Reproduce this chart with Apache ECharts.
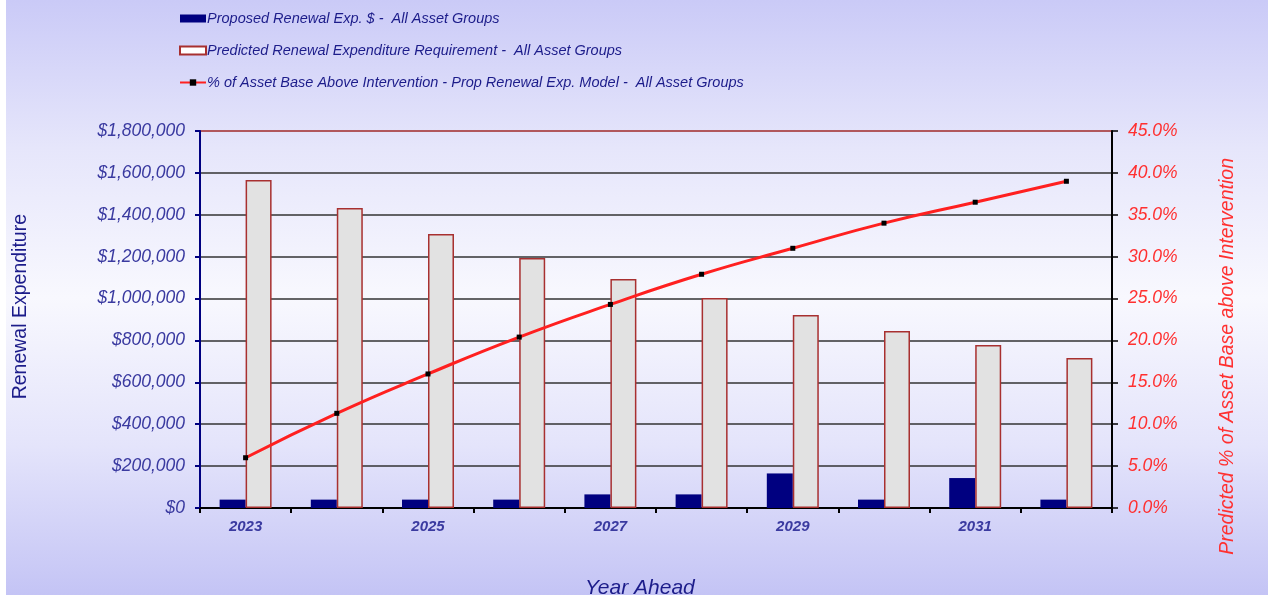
<!DOCTYPE html>
<html>
<head>
<meta charset="utf-8">
<script src="https://cdn.jsdelivr.net/npm/echarts@6/dist/echarts.min.js"></script>
<style>
  html, body { margin: 0; padding: 0; background: #ffffff; }
  #main {
    position: absolute; left: 6px; top: 0; width: 1262px; height: 595px;
    background: linear-gradient(to bottom, #cacaf7 0%, #e6e6fb 25%, #f8f8fe 50%, #e4e4fb 75%, #c4c4f5 100%);
  }
</style>
</head>
<body>
<div id="main"></div>
<script>
// years on the x axis
var years = ['2023', '2024', '2025', '2026', '2027', '2028', '2029', '2030', '2031', '2032']
// Proposed Renewal Exp. $
var proposed = [40000, 40000, 40000, 40000, 65000, 65000, 165000, 40000, 143000, 40000]
// Predicted Renewal Expenditure Requirement
var predicted = [1566000, 1432000, 1308000, 1194000, 1093000, 1003000, 921000, 845000, 778000, 716000]
// % of asset base above intervention
var pctAbove = [6.0, 11.3, 16.0, 20.4, 24.3, 27.9, 31.0, 34.0, 36.5, 39.0]

var navy = '#1c1c8a'
var red = '#ff2020'
var font = 'Liberation Sans, Arial, sans-serif'

var myChart = echarts.init(document.getElementById('main'))
var option = {
  animation: false,
  textStyle: { fontFamily: font },
  legend: {
    orient: 'vertical',
    left: 168,
    top: 6,
    itemGap: 17,
    itemWidth: 26,
    itemHeight: 8,
    textStyle: { fontStyle: 'italic', fontSize: 14.5, color: navy, fontFamily: font, padding: [0, 0, 0, -4] },
    data: [
      { name: 'Proposed Renewal Exp. $ -  All Asset Groups', icon: 'rect' },
      { name: 'Predicted Renewal Expenditure Requirement -  All Asset Groups', icon: 'rect', itemStyle: { color: '#ffffff' } },
      { name: '% of Asset Base Above Intervention - Prop Renewal Exp. Model -  All Asset Groups' }
    ]
  },
  grid: { left: 194, right: 156, top: 131, bottom: 87 },
  xAxis: {
    type: 'category',
    data: years,
    boundaryGap: true,
    axisLine: { lineStyle: { color: '#000', width: 2 } },
    axisTick: { show: true, interval: 0, length: 5, inside: false, lineStyle: { color: '#000', width: 2 } },
    axisLabel: { interval: 1, fontStyle: 'italic', fontWeight: 'bold', fontSize: 15, color: '#3a3aa0', margin: 11 }
  },
  yAxis: [
    {
      type: 'value',
      min: 0,
      max: 1800000,
      interval: 200000,
      axisLine: { show: true, lineStyle: { color: '#000080', width: 2 } },
      axisTick: { show: true, length: 5, lineStyle: { color: '#000080', width: 2 } },
      axisLabel: {
        fontStyle: 'italic', fontSize: 17.5, color: '#3a3aa0', margin: 15,
        formatter: function (v) { return '$' + v.toLocaleString('en-US') }
      },
      splitLine: {
        show: true,
        lineStyle: { width: 1.5, color: ['#333', '#333', '#333', '#333', '#333', '#333', '#333', '#333', '#333', '#a02828'] }
      }
    },
    {
      type: 'value',
      min: 0,
      max: 45,
      interval: 5,
      position: 'right',
      axisLine: { show: true, lineStyle: { color: '#000', width: 2 } },
      axisTick: { show: true, length: 6, lineStyle: { color: '#000', width: 1.5 } },
      axisLabel: {
        fontStyle: 'italic', fontSize: 17.5, color: '#ff3030', margin: 16,
        formatter: function (v) { return v.toFixed(1) + '%' }
      },
      splitLine: { show: false }
    }
  ],
  series: [
    {
      name: 'Proposed Renewal Exp. $ -  All Asset Groups',
      type: 'bar',
      data: proposed,
      barGap: '0%',
      barCategoryGap: '43%',
      itemStyle: { color: '#000080' },
      z: 3
    },
    {
      name: 'Predicted Renewal Expenditure Requirement -  All Asset Groups',
      type: 'bar',
      data: predicted,
      itemStyle: { color: '#e2e2e2', borderColor: '#a83030', borderWidth: 1.5 },
      z: 3
    },
    {
      name: '% of Asset Base Above Intervention - Prop Renewal Exp. Model -  All Asset Groups',
      type: 'line',
      yAxisIndex: 1,
      data: pctAbove,
      smooth: true,
      symbol: 'rect',
      symbolSize: 5,
      itemStyle: { color: '#000' },
      lineStyle: { color: red, width: 3 },
      z: 5
    }
  ],
  graphic: [
    {
      type: 'text', left: 5, top: 214, rotation: Math.PI / 2,
      style: { text: 'Renewal Expenditure', font: '19.5px ' + font, fill: navy }
    },
    {
      type: 'text', left: 1212, top: 158, rotation: Math.PI / 2,
      style: { text: 'Predicted % of Asset Base above Intervention', font: 'italic 19.5px ' + font, fill: '#ff3030' }
    },
    {
      type: 'text', left: 579, top: 578,
      style: { text: 'Year Ahead', font: 'italic 21px ' + font, fill: navy }
    }
  ]
}
myChart.setOption(option)
</script>
</body>
</html>
